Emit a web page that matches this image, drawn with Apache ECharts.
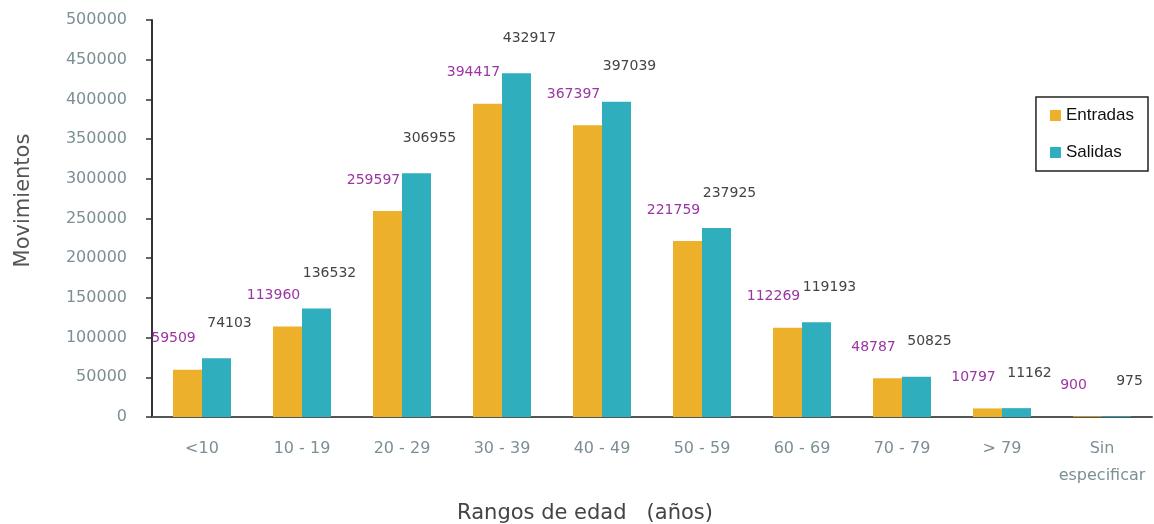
<!DOCTYPE html>
<html><head><meta charset="utf-8">
<script src="https://cdn.jsdelivr.net/npm/echarts@6/dist/echarts.min.js"></script>
<style>html,body{margin:0;padding:0;background:#fff}#c{width:1154px;height:524px}</style>
</head><body><div id="c"></div>
<script>
const categories = ['<10','10 - 19','20 - 29','30 - 39','40 - 49','50 - 59','60 - 69','70 - 79','> 79','Sin\nespecificar'];
const entradas = [59509,113960,259597,394417,367397,221759,112269,48787,10797,900];
const salidas = [74103,136532,306955,432917,397039,237925,119193,50825,11162,975];
const yTicks = [0,50000,100000,150000,200000,250000,300000,350000,400000,450000,500000];

const chart = echarts.init(document.getElementById('c'), null, {renderer:'canvas'});
const labelFont = 'DejaVu Sans, Verdana, sans-serif';
chart.setOption({
  animation:false,
  backgroundColor:'#fff',
  grid:{left:152,right:2,top:20,bottom:107,outerBoundsMode:'none',containLabel:false},
  legend:{
    orient:'vertical', right:6, top:97,
    data:['Entradas','Salidas'],
    icon:'rect', itemWidth:11, itemHeight:11, itemGap:20,
    padding:[10,14,10,14],
    borderColor:'#222', borderWidth:1.5,
    textStyle:{fontFamily:'Liberation Sans, Arial, sans-serif',fontSize:17,color:'#111'}
  },
  xAxis:{
    type:'category', data:categories,
    axisLine:{lineStyle:{color:'#555',width:2}},
    axisTick:{show:false},
    axisLabel:{color:'#7b8f95',fontFamily:labelFont,fontSize:16,margin:18,lineHeight:27,interval:0},
    name:'Rangos de edad   (años)', nameLocation:'middle', nameGap:86,
    nameTextStyle:{color:'#444',fontFamily:labelFont,fontSize:21,padding:[0,134,0,0]}
  },
  yAxis:{
    type:'value', min:yTicks[0], max:yTicks[yTicks.length-1], interval:yTicks[1]-yTicks[0],
    splitLine:{show:false},
    axisLine:{show:true,lineStyle:{color:'#333',width:2}},
    axisTick:{show:true,length:6,lineStyle:{color:'#333',width:1.5}},
    axisLabel:{color:'#7b8f95',fontFamily:labelFont,fontSize:16,margin:25,formatter:function(v){return String(v);}},
    name:'Movimientos', nameLocation:'middle', nameGap:118, nameRotate:90,
    nameTextStyle:{color:'#555',fontFamily:labelFont,fontSize:21,padding:[0,0,0,36]}
  },
  series:[
    {name:'Entradas',type:'bar',data:entradas,barWidth:29,barGap:'0%',
     itemStyle:{color:'#ECB02B'},
     label:{show:true,position:'top',offset:[-14,-19],color:'#9b35a3',fontFamily:labelFont,fontSize:14}},
    {name:'Salidas',type:'bar',data:salidas,barWidth:29,barGap:'0%',
     itemStyle:{color:'#2FAEBE'},
     label:{show:true,position:'top',offset:[13,-23],color:'#444',fontFamily:labelFont,fontSize:14}}
  ]
});
</script></body></html>
